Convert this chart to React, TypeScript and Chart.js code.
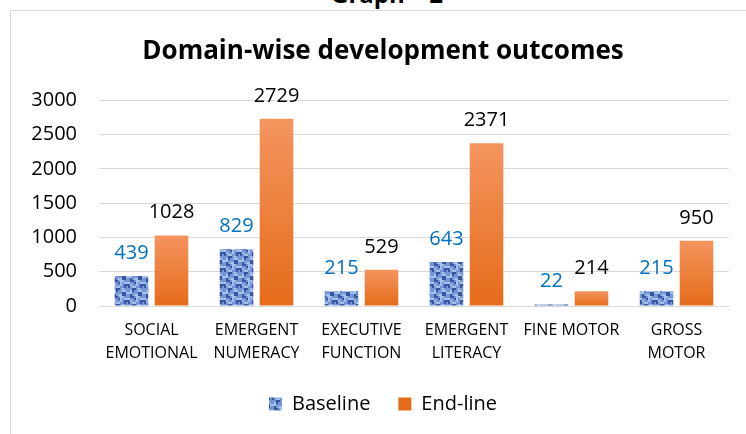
import React, { useEffect, useRef } from 'react';
import { Chart, registerables } from 'chart.js';

Chart.register(...registerables);

const TITLE = 'Domain-wise development outcomes';
const CAPTION = 'Graph \u2013 2';
const categories: (string | string[])[] = [
  ['SOCIAL', 'EMOTIONAL'],
  ['EMERGENT', 'NUMERACY'],
  ['EXECUTIVE', 'FUNCTION'],
  ['EMERGENT', 'LITERACY'],
  'FINE MOTOR',
  ['GROSS', 'MOTOR'],
];
const seriesNames = ['Baseline', 'End-line'];
const baselineValues = [439, 829, 215, 643, 22, 215];
const endlineValues = [1028, 2729, 529, 2371, 214, 950];
const yMin = 0;
const yMax = 3000;
const yStep = 500;

const FONT = '"Open Sans", "Noto Sans", sans-serif';
const LABEL_COLORS = ['#0070C0', '#000000'];

const TEX = [
  '11221011',
  '10211001',
  '00111220',
  '12100221',
  '12210011',
  '01120100',
  '20110122',
  '21001121',
];
const TEX_COLORS = ['#a6c0ec', '#7596d4', '#36579f'];

function makePattern(): CanvasPattern | string {
  const c = document.createElement('canvas');
  const cell = 2;
  c.width = TEX[0].length * cell;
  c.height = TEX.length * cell;
  const g = c.getContext('2d');
  if (!g) return '#7d9cd8';
  TEX.forEach((row, r) => {
    row.split('').forEach((v, k) => {
      g.fillStyle = TEX_COLORS[Number(v)];
      g.fillRect(k * cell, r * cell, cell, cell);
    });
  });
  const p = g.createPattern(c, 'repeat');
  return p || '#7d9cd8';
}

const valueLabels = {
  id: 'valueLabels',
  afterDatasetsDraw(chart: any) {
    const ctx = chart.ctx;
    chart.data.datasets.forEach((ds: any, i: number) => {
      const meta = chart.getDatasetMeta(i);
      meta.data.forEach((el: any, j: number) => {
        ctx.save();
        ctx.font = `20px ${FONT}`;
        ctx.fillStyle = LABEL_COLORS[i];
        ctx.textAlign = 'center';
        ctx.textBaseline = 'alphabetic';
        ctx.fillText(String(ds.data[j]), el.x, el.y - 17);
        ctx.restore();
      });
    });
  },
};

export default function App() {
  const ref = useRef<HTMLCanvasElement>(null);

  useEffect(() => {
    if (!ref.current) return;
    const pattern = makePattern();
    const chart = new Chart(ref.current, {
      type: 'bar',
      data: {
        labels: categories,
        datasets: [
          {
            label: seriesNames[0],
            data: baselineValues,
            backgroundColor: pattern as any,
            borderWidth: 0,
            categoryPercentage: 0.762,
            barPercentage: 0.84,
          },
          {
            label: seriesNames[1],
            data: endlineValues,
            backgroundColor: (c: any) => {
              const chartObj = c.chart;
              const { chartArea, scales } = chartObj;
              if (!chartArea || c.type !== 'data') return '#ed7d31';
              const y0 = scales.y.getPixelForValue(0);
              const y1 = scales.y.getPixelForValue(c.raw);
              if (!isFinite(y0) || !isFinite(y1) || y0 === y1) return '#ed7d31';
              const grad = chartObj.ctx.createLinearGradient(0, y1, 0, y0);
              grad.addColorStop(0, '#f4945e');
              grad.addColorStop(1, '#e56c1a');
              return grad;
            },
            borderWidth: 0,
            categoryPercentage: 0.762,
            barPercentage: 0.84,
          },
        ],
      },
      options: {
        animation: false,
        responsive: false,
        maintainAspectRatio: false,
        layout: { padding: { left: 10, right: 14, top: 0, bottom: 10 } },
        plugins: {
          title: {
            display: true,
            text: TITLE,
            color: '#000000',
            font: { family: FONT, size: 26, weight: 'bold' },
            padding: { top: 36, bottom: 33 },
          },
          legend: {
            display: true,
            position: 'bottom',
            labels: {
              color: '#000000',
              font: { family: FONT, size: 20 },
              boxWidth: 13,
              boxHeight: 13,
              padding: 28,
            },
          },
          tooltip: { enabled: false },
        },
        scales: {
          x: {
            grid: { display: false },
            border: { display: true, color: '#d9d9d9', width: 1 },
            ticks: {
              color: '#000000',
              font: { family: FONT, size: 16, lineHeight: 1.44 },
              padding: 5,
              maxRotation: 0,
              autoSkip: false,
            },
            afterFit: (s: any) => {
              s.height = 60;
            },
          },
          y: {
            min: yMin,
            max: yMax,
            grid: { color: '#d9d9d9', lineWidth: 1, drawTicks: false },
            border: { display: false },
            ticks: {
              stepSize: yStep,
              color: '#000000',
              font: { family: FONT, size: 20 },
              padding: 22,
              callback: (v: any) => String(v),
            },
            afterFit: (s: any) => {
              s.width = 89;
            },
          },
          y2: {
            position: 'right',
            display: true,
            grid: { display: false, drawTicks: false },
            border: { display: false },
            ticks: { display: false },
            afterFit: (s: any) => {
              s.width = 27;
            },
          },
        },
      },
      plugins: [valueLabels],
    } as any);
    return () => chart.destroy();
  }, []);

  return (
    <div
      style={{
        position: 'fixed',
        left: 0,
        top: 0,
        width: 746,
        height: 434,
        overflow: 'hidden',
        background: '#ffffff',
      }}
    >
      <div
        style={{
          position: 'absolute',
          left: 287,
          width: 200,
          top: -18,
          textAlign: 'center',
          fontFamily: FONT,
          fontWeight: 'bold',
          fontSize: 24,
          lineHeight: '24px',
          color: '#000',
          whiteSpace: 'nowrap',
        }}
      >
        {CAPTION}
      </div>
      <div
        style={{
          position: 'absolute',
          left: 10,
          top: 10,
          width: 900,
          height: 600,
          border: '1px solid #d9d9d9',
          boxSizing: 'border-box',
        }}
      />
      <canvas
        ref={ref}
        width={770}
        height={434}
        style={{ position: 'absolute', left: 0, top: 0, width: 770, height: 434 }}
      />
    </div>
  );
}
